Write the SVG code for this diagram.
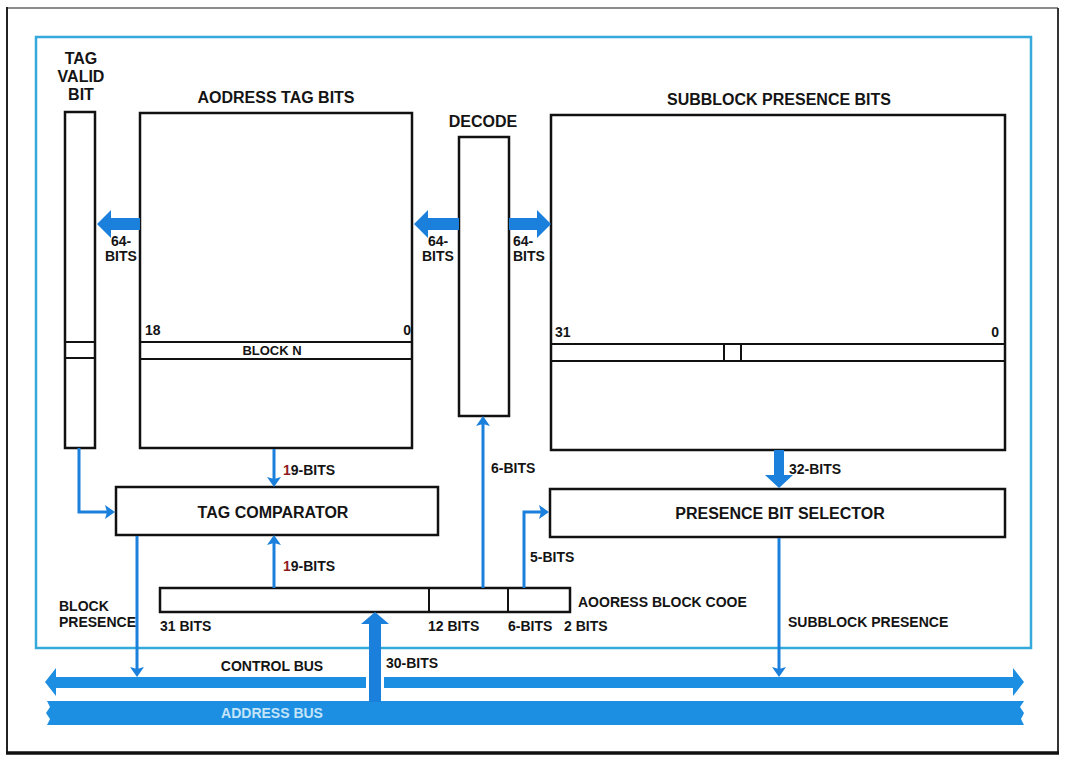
<svg xmlns="http://www.w3.org/2000/svg" width="1067" height="759" viewBox="0 0 1067 759">
<style>
.box{fill:#fff;stroke:#111;stroke-width:2.5}
.div{stroke:#111;stroke-width:2;fill:none}
.t{font-family:"Liberation Sans",Arial,sans-serif;font-weight:bold;fill:#141414}
.t16{font-size:16px}
.t14{font-size:14px}
.t13{font-size:13px}
.c{text-anchor:middle}
.e{text-anchor:end}
.wire{fill:none;stroke:#1a80dc;stroke-width:3}
.thick{fill:#1a80dc}
.bus{fill:#1d8fe2}
</style>
<defs>
<marker id="ah" viewBox="0 0 10 10" markerUnits="userSpaceOnUse" markerWidth="10" markerHeight="14" refX="6" refY="5" orient="auto" preserveAspectRatio="none">
<path d="M0,0 L10,5 L0,10 L2,5 z" fill="#1a80dc"/>
</marker>
</defs>
<rect width="1067" height="759" fill="#fff"/>
<g id="frame">
<line x1="7" y1="8" x2="1058" y2="8" stroke="#666" stroke-width="1.5"/>
<line x1="7" y1="7" x2="7" y2="753" stroke="#222" stroke-width="2"/>
<line x1="1058" y1="8" x2="1058" y2="753" stroke="#333" stroke-width="2"/>
<line x1="6" y1="753" x2="1059" y2="753" stroke="#111" stroke-width="3.5"/>
<rect x="36" y="37" width="995" height="611" fill="none" stroke="#35a8dc" stroke-width="2.5"/>
</g>
<g id="buses">
<polygon class="bus" points="45,682 56,668 56,677 1013,677 1013,668 1024,682 1013,696 1013,688 56,688 56,696"/>
<path class="bus" d="M47,701 H1024 l-4,6 l4,6 l-3,6 l3,6 H47 l3,-6 l-4,-6 l4,-6 l-3,-6 z"/>
<text class="t t14 c" x="272" y="671">CONTROL BUS</text>
<text class="t t14 c" x="272" y="718" style="fill:#c4e4f8">ADDRESS BUS</text>
</g>
<g id="tag-valid-bit">
<rect class="box" x="65" y="112" width="30" height="336"/>
<line class="div" x1="65" y1="342" x2="95" y2="342"/>
<line class="div" x1="65" y1="358" x2="95" y2="358"/>
<text class="t t16 c" x="81" y="64">TAG</text>
<text class="t t16 c" x="81" y="82">VALID</text>
<text class="t t16 c" x="81" y="100">BIT</text>
</g>
<g id="address-tag-bits">
<rect class="box" x="140" y="113" width="272" height="335"/>
<line class="div" x1="140" y1="342" x2="412" y2="342"/>
<line class="div" x1="140" y1="359" x2="412" y2="359"/>
<text class="t t16 c" x="276" y="103">AODRESS TAG BITS</text>
<text class="t t14" x="145" y="335">18</text>
<text class="t t14 e" x="411" y="335">0</text>
<text class="t t13 c" x="272" y="355">BLOCK N</text>
</g>
<g id="decode">
<rect class="box" x="459" y="137" width="50" height="279"/>
<text class="t t16 c" x="483" y="127">DECODE</text>
</g>
<g id="subblock-presence-bits">
<rect class="box" x="551" y="115" width="454" height="335"/>
<line class="div" x1="551" y1="344" x2="1005" y2="344"/>
<line class="div" x1="551" y1="361" x2="1005" y2="361"/>
<line class="div" x1="724" y1="344" x2="724" y2="361"/>
<line class="div" x1="741" y1="344" x2="741" y2="361"/>
<text class="t t16 c" x="779" y="105">SUBBLOCK PRESENCE BITS</text>
<text class="t t14" x="555" y="337">31</text>
<text class="t t14 e" x="999" y="337">0</text>
</g>
<g id="tag-comparator">
<rect class="box" x="116" y="487" width="322" height="48"/>
<text class="t t16 c" x="273" y="518">TAG COMPARATOR</text>
</g>
<g id="presence-bit-selector">
<rect class="box" x="550" y="489" width="455" height="48"/>
<text class="t t16 c" x="780" y="519">PRESENCE BIT SELECTOR</text>
</g>
<g id="address-block-code">
<rect class="box" x="160" y="588" width="410" height="24"/>
<line class="div" x1="429" y1="588" x2="429" y2="612"/>
<line class="div" x1="508" y1="588" x2="508" y2="612"/>
<text class="t t14" x="578" y="607">AOORESS BLOCK COOE</text>
<text class="t t14" x="160" y="631">31 BITS</text>
<text class="t t14" x="428" y="631">12 BITS</text>
<text class="t t14" x="508" y="631">6-BITS</text>
<text class="t t14" x="564" y="631">2 BITS</text>
</g>
<g id="connectors">
<path class="wire" d="M79,448 V512 H111" marker-end="url(#ah)"/>
<path class="wire" d="M274,449 V483" marker-end="url(#ah)"/>
<path class="wire" d="M274,588 V539" marker-end="url(#ah)"/>
<path class="wire" d="M137,536 V673" marker-end="url(#ah)"/>
<path class="wire" d="M483,588 V420" marker-end="url(#ah)"/>
<path class="wire" d="M524,588 V512 H545" marker-end="url(#ah)"/>
<path class="wire" d="M779,538 V673" marker-end="url(#ah)"/>
<polygon class="thick" points="97,224 111,210 111,218 140,218 140,230 111,230 111,238"/>
<polygon class="thick" points="414,224 428,210 428,218 459,218 459,230 428,230 428,238"/>
<polygon class="thick" points="551,224 537,210 537,218 509,218 509,230 537,230 537,238"/>
<polygon class="thick" points="779,488 765,475 774,475 774,450 784,450 784,475 793,475"/>
<rect x="366" y="675" width="18" height="15" fill="#fff"/>
<polygon class="thick" points="375,612 389,624 381,624 381,702 369,702 369,624 361,624"/>
<text class="t t14" x="111" y="246">64-</text>
<text class="t t14" x="105" y="261">BITS</text>
<text class="t t14" x="428" y="246">64-</text>
<text class="t t14" x="422" y="261">BITS</text>
<text class="t t14" x="513" y="246">64-</text>
<text class="t t14" x="513" y="261">BITS</text>
<text class="t t14" x="283" y="475"><tspan fill="#8e1c1c">1</tspan>9-BITS</text>
<text class="t t14" x="283" y="571"><tspan fill="#8e1c1c">1</tspan>9-BITS</text>
<text class="t t14" x="491" y="473">6-BITS</text>
<text class="t t14" x="789" y="474">32-BITS</text>
<text class="t t14" x="530" y="562">5-BITS</text>
<text class="t t14" x="386" y="668">30-BITS</text>
<text class="t t14" x="59" y="611">BLOCK</text>
<text class="t t14" x="59" y="627">PRESENCE</text>
<text class="t t14" x="788" y="627">SUBBLOCK PRESENCE</text>
</g>
</svg>
